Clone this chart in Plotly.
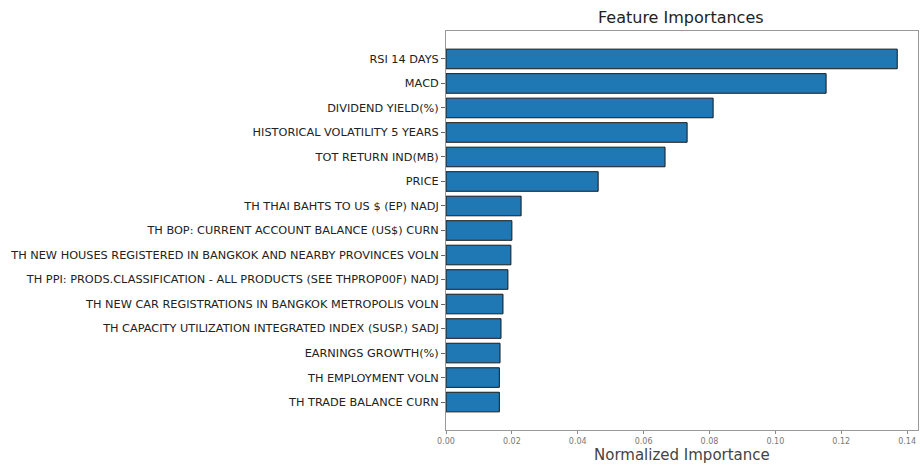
import plotly.graph_objects as go

features = [
    "RSI 14 DAYS",
    "MACD",
    "DIVIDEND YIELD(%)",
    "HISTORICAL VOLATILITY 5 YEARS",
    "TOT RETURN IND(MB)",
    "PRICE",
    "TH THAI BAHTS TO US $ (EP) NADJ",
    "TH BOP: CURRENT ACCOUNT BALANCE (US$) CURN",
    "TH NEW HOUSES REGISTERED IN BANGKOK AND NEARBY PROVINCES VOLN",
    "TH PPI: PRODS.CLASSIFICATION - ALL PRODUCTS (SEE THPROP00F) NADJ",
    "TH NEW CAR REGISTRATIONS IN BANGKOK METROPOLIS VOLN",
    "TH CAPACITY UTILIZATION INTEGRATED INDEX (SUSP.) SADJ",
    "EARNINGS GROWTH(%)",
    "TH EMPLOYMENT VOLN",
    "TH TRADE BALANCE CURN",
]
importances = [0.1370, 0.1154, 0.0811, 0.0732, 0.0665, 0.0462, 0.0228, 0.0200,
               0.0197, 0.0188, 0.0173, 0.0167, 0.0164, 0.0162, 0.0162]
x_ticks = [0.00, 0.02, 0.04, 0.06, 0.08, 0.10, 0.12, 0.14]

# matplotlib-like: bar i at position (n-1-i), largest on top
n = len(features)
pos = list(range(n - 1, -1, -1))

fig = go.Figure(go.Bar(
    x=importances,
    y=pos,
    orientation="h",
    width=0.8,
    marker=dict(color="#1f77b4", line=dict(color="#1a1a1a", width=1)),
))

fig.update_layout(
    width=920, height=465,
    margin=dict(l=446, r=2, t=31, b=35, autoexpand=False),
    paper_bgcolor="white",
    plot_bgcolor="white",
    showlegend=False,
    font=dict(family="DejaVu Sans", color="#222"),
    title=dict(text="Feature Importances", x=0.74, xanchor="center",
               y=0.975, yanchor="top", font=dict(size=16, color="#222")),
)
fig.add_annotation(
    text="Normalized Importance", xref="paper", yref="paper",
    x=0.5, y=0, yshift=-25, yanchor="middle", showarrow=False,
    font=dict(size=15, color="#444"),
)
fig.update_xaxes(
    range=[0, 0.1433],
    tickvals=x_ticks,
    tickformat=".2f",
    tickfont=dict(size=8, color="#777"),
    ticks="outside", ticklen=3, tickcolor="#888",
    showgrid=False, zeroline=False, automargin=False,
    showline=True, linecolor="#999", linewidth=1, mirror=True,
)
fig.update_yaxes(
    range=[-1.14, n - 1 + 1.14],
    tickvals=pos,
    ticktext=features,
    tickfont=dict(size=11.3, color="#222"),
    ticks="outside", ticklen=4, tickcolor="#666",
    showgrid=False, zeroline=False, automargin=False,
    showline=True, linecolor="#999", linewidth=1, mirror=True,
)

# drop the default 8px page margin so the figure fills the window
fig.write_html("out.html",
               config={"displayModeBar": False},
               post_script="document.body.style.margin='0';document.body.style.overflow='hidden';")
